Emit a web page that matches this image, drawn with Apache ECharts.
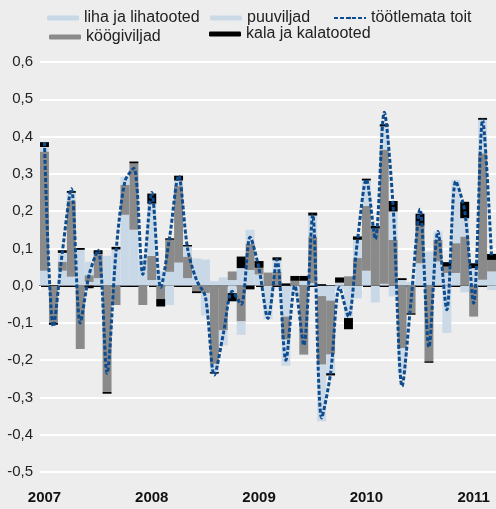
<!DOCTYPE html>
<html><head><meta charset="utf-8">
<script src="https://cdn.jsdelivr.net/npm/echarts@6/dist/echarts.min.js"></script>
<style>html,body{margin:0;padding:0;background:#ecedec;}#c{width:496px;height:509px;}</style>
</head><body><div id="c"></div>
<script>
const years = ['2007','2008','2009','2010','2011'];
const monthsLastYear = 3;
const yTicks = { min: -0.5, max: 0.6, step: 0.1 };

// liha ja lihatooted
const liha = [0.04,0,0.04,0.024,0.096,0.01,0.02,0.08,0.097,0.19,0.15,0.07,0.015,
  0.04,0.037,0.062,0.02,0.073,0.07,0.012,0.022,0.015,0.047,0.042,0.03,0,
  0,-0.083,0,0.013,0.007,-0.028,-0.04,0.008,0,-0.034,0.04,-0.045,0.005,
  -0.029,0.015,0.01,0.06,0.091,0.065,0.034,0.034,-0.018,0.047,0.016,0.038];
// köögiviljad
const kook = [0.32,-0.10,0.024,0.204,-0.17,0.018,0.065,-0.285,-0.052,0.08,0.178,-0.052,0.065,
  -0.036,0.086,0.205,0.058,-0.015,-0.02,-0.21,-0.12,0.023,-0.096,0.07,0.018,0.035,
  0.037,-0.062,0.013,-0.185,0.125,-0.184,-0.145,0,0.025,0.074,0.174,0.153,0.36,
  0.123,-0.168,-0.074,0.101,-0.203,0.058,0.017,0.08,0.132,-0.083,0.339,0.031];
// puuviljad
const puu = [0.012,0,0.024,0.021,0,0.036,0,0,0,0.022,0,0,0.14,
  0,-0.052,0.015,0.027,0,-0.06,-0.022,-0.04,-0.02,-0.036,0.038,0,-0.09,
  0.031,-0.07,-0.02,0,0.056,-0.152,-0.05,-0.01,-0.087,0.049,0.068,0,0.062,
  0.076,-0.067,0,0,0,0.022,-0.127,0.17,0.049,0,0.09,-0.012];
// kala ja kalatooted
const kala = [0.013,-0.005,0.007,0.005,0.005,-0.007,0.01,-0.005,0.007,0,0.005,0,0.027,
  -0.02,0.004,0.013,0.004,-0.005,0,-0.004,0,-0.022,0.031,-0.01,0.018,0,
  0.008,0.006,0.013,0.013,0.008,0.004,-0.006,0.014,-0.03,0.009,0.005,0.007,0.006,
  0.028,0.005,-0.004,0.032,-0.004,0,0.012,0,0.044,0.013,0.005,0.016];
// töötlemata toit
const toit = [0.385,-0.11,0.09,0.26,-0.1,0.03,0.095,-0.235,0.09,0.28,0.315,0.03,0.25,
  -0.005,0.13,0.295,0.1,0.015,-0.03,-0.24,-0.13,-0.015,-0.05,0.13,0.045,-0.088,
  0.07,-0.2,0.0,-0.16,0.19,-0.355,-0.235,-0.005,-0.083,0.12,0.285,0.125,0.465,
  0.21,-0.27,-0.04,0.205,-0.165,0.145,-0.065,0.28,0.2,-0.047,0.445,0.078];

const categories = [];
years.forEach((y, yi) => {
  const n = yi === years.length - 1 ? monthsLastYear : 12;
  for (let m = 1; m <= n; m++) categories.push(y + '-' + (m < 10 ? '0' + m : m));
});

const C_LIHA = '#c8d8e7', C_PUU = '#ccdae8', C_KOOK = '#8a8a8a', C_KALA = '#000000', C_LINE = '#0d4c8e';
const font = 'Liberation Sans, Arial, Helvetica, sans-serif';

function legend(name, left, top) {
  return { data: [name], left: left, top: top, itemWidth: 32, itemHeight: 5, padding: 0,
    textStyle: { fontFamily: font, fontSize: 16, color: '#222' }, selectedMode: false };
}

function bar(name, data, color) {
  return { name: name, type: 'bar', stack: 's', data: data, barCategoryGap: '0%', barGap: '0%',
    itemStyle: { color: color } };
}

const chart = echarts.init(document.getElementById('c'), null, { renderer: 'canvas' });
chart.setOption({
  backgroundColor: '#ecedec',
  animation: false,
  legend: [
    legend('liha ja lihatooted', 47, 10),
    legend('puuviljad', 210, 10),
    Object.assign(legend('töötlemata toit', 333, 10), { itemHeight: 3 }),
    legend('köögiviljad', 49, 29),
    legend('kala ja kalatooted', 209, 26)
  ],
  grid: { left: 40, right: 0, top: 62, bottom: 37 },
  xAxis: [
    { type: 'category', data: categories, position: 'bottom',
      axisLine: { show: false, onZero: false }, axisTick: { show: false },
      axisLabel: { interval: (i) => i % 12 === 0, formatter: (v) => v.split('-')[0],
        fontFamily: font, fontSize: 15, fontWeight: 'bold', color: '#111', margin: 18 } },
    { type: 'category', data: categories, position: 'bottom', gridIndex: 0,
      axisLine: { show: true, onZero: true, lineStyle: { color: '#000', width: 2 } },
      axisTick: { show: true, interval: (i) => i % 12 === 0, length: 4, lineStyle: { color: '#fff', width: 2 } },
      axisLabel: { show: false } }
  ],
  yAxis: { type: 'value', min: yTicks.min, max: yTicks.max, interval: yTicks.step,
    axisLine: { show: false }, axisTick: { show: false },
    axisLabel: { formatter: (v) => v.toFixed(1).replace('.', ','), fontFamily: font, fontSize: 15, color: '#222', margin: 7 },
    splitLine: { lineStyle: { color: '#ffffff', width: 2 } } },
  series: [
    bar('liha ja lihatooted', liha, C_LIHA),
    bar('köögiviljad', kook, C_KOOK),
    bar('puuviljad', puu, C_PUU),
    bar('kala ja kalatooted', kala, C_KALA),
    { name: 'töötlemata toit', type: 'line', data: toit, smooth: 0.3, symbol: 'none', z: 10,
      lineStyle: { color: C_LINE, width: 3, type: [4, 2] }, itemStyle: { color: C_LINE } }
  ]
});
</script></body></html>
